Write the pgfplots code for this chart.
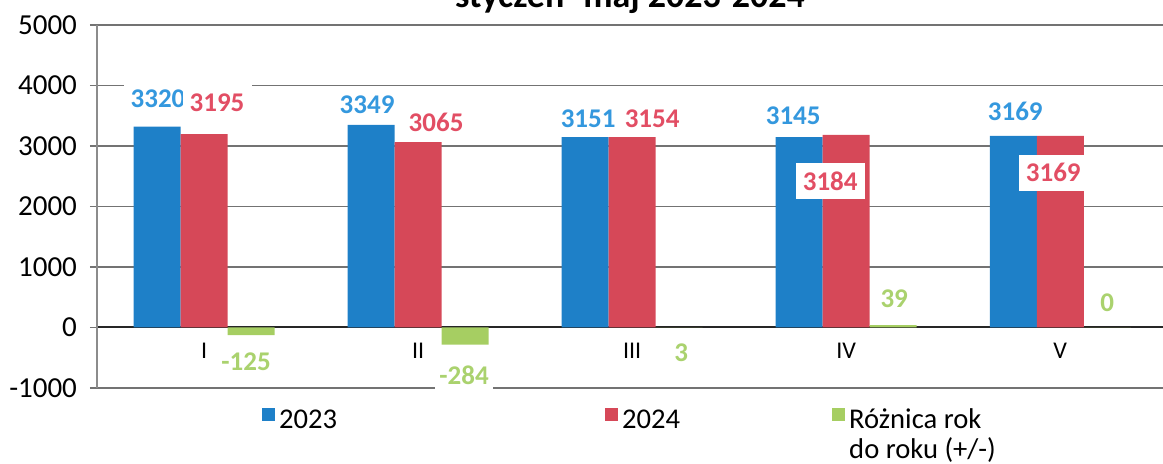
\documentclass[border=0pt]{standalone}
\usepackage{fontspec}
\setmainfont{Carlito}
\usepackage{pgfplots}
\usepackage{pgfplotstable}
\pgfplotsset{compat=1.18}

\definecolor{c23}{RGB}{30,128,200}
\definecolor{c24}{RGB}{214,72,88}
\definecolor{cdiff}{RGB}{166,206,98}
\definecolor{l23}{RGB}{52,152,222}
\definecolor{l24}{RGB}{226,78,100}
\definecolor{ldiff}{RGB}{170,210,110}

% month index, value, label offset (px, 1px = 0.5pt)
\pgfplotstableread{
x y dx dy
0 3320 1 28
1 3349 -4 20
2 3151 3 18
3 3145 -6 21
4 3169 2 24
}\tabA
\pgfplotstableread{
x y dx dy
0 3195 13 31
1 3065 18 20
2 3154 20 18
3 3184 -16 -46
4 3169 -7 -37
}\tabB
\pgfplotstableread{
x y dx dy
0 -125 -5 -27
1 -284 -1 -31
2 3 2 -25
3 39 1 26
4 0 0 25
}\tabC

\begin{document}
\begin{tikzpicture}
\begin{axis}[
  name=ax,
  scale only axis,
  width=533pt, height=181.5pt,
  ybar=0pt, bar width=23.5pt,
  xmin=-0.5, xmax=4.48,
  ymin=-1000, ymax=5000,
  ytick={-1000,0,...,5000},
  xtick={0,...,4}, xticklabels={I,II,III,IV,V},
  axis x line*=middle, axis y line*=left,
  hide obscured y ticks=false,
  x axis line style={black!85, line width=1pt},
  y axis line style={black!45, line width=0.8pt},
  ymajorgrids, grid style={black!55, line width=0.8pt},
  tick align=outside, major tick length=3.5pt,
  xtick style={draw=none},
  ytick style={black!55, line width=0.8pt},
  scaled y ticks=false,
  /pgf/number format/1000 sep={},
  /pgf/number format/assume math mode=true,
  every y tick label/.append style={font=\fontsize{14.5}{16}\selectfont, xshift=-3pt},
  every x tick label/.append style={font=\fontsize{12}{14}\selectfont, yshift=-1pt},
  nodes near coords,
  visualization depends on={\thisrow{dx}\as\ldx},
  visualization depends on={\thisrow{dy}\as\ldy},
  nodes near coords style={anchor=center, xshift=\ldx*0.5pt, yshift=\ldy*0.5pt,
    fill=white, inner sep=0pt, minimum width=34.5pt, minimum height=18pt,
    font=\bfseries\fontsize{13.5}{15}\selectfont},
  legend image code/.code={\fill[#1] (0pt,-0.3pt) rectangle (6.5pt,6.2pt);},
  legend style={at={(0.149,-0.035)}, anchor=north west, draw=none, fill=none,
    legend columns=3, font=\fontsize{14.3}{15}\selectfont,
    /tikz/every even column/.append style={column sep=3pt}},
  legend cell align=left,
]
\addplot[fill=c23, draw=none, nodes near coords style={text=l23}] table[x=x,y=y] {\tabA};
\addlegendentry{\makebox[158pt][l]{2023}}
\addplot[fill=c24, draw=none, nodes near coords style={text=l24}] table[x=x,y=y] {\tabB};
\addlegendentry{\makebox[100pt][l]{2024}}
\addplot[fill=cdiff, draw=none, nodes near coords style={text=ldiff, minimum width=0pt, inner xsep=2pt}] table[x=x,y=y] {\tabC};
\addlegendentry{\vtop{\baselineskip=15pt\hbox{Różnica rok}\hbox{do roku (+/-)}}}
\end{axis}
\node[font=\bfseries\fontsize{18}{20}\selectfont, anchor=base] at ([yshift=9pt]ax.north) {styczeń- maj 2023-2024};
\pgfresetboundingbox
\path[use as bounding box] ([xshift=-48.5pt,yshift=-38pt]ax.south west) rectangle ([yshift=12.5pt]ax.north east);
\end{tikzpicture}
\end{document}
